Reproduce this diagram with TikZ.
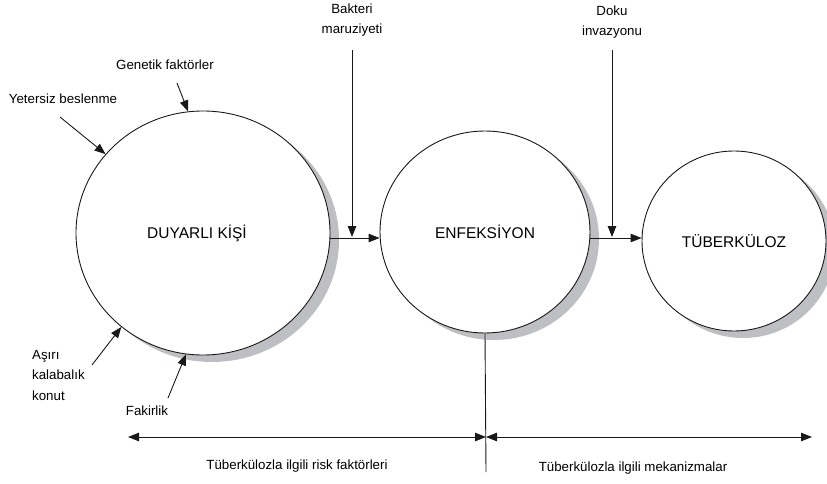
\documentclass[tikz,border=0pt]{standalone}
\usepackage{fontspec}
\setmainfont{Liberation Sans}
\usetikzlibrary{arrows.meta,shapes.geometric,shadows}
\definecolor{shadowgray}{RGB}{190,191,194}
\definecolor{ink}{RGB}{25,25,25}
\begin{document}
\begin{tikzpicture}[x=1pt,y=-1pt,
  bubble/.style={ellipse,draw=ink,line width=0.9pt,fill=white,inner sep=0pt,
    font=\fontsize{15.5}{18}\selectfont,text=black,
    drop shadow={shadow xshift=9pt,shadow yshift=-7pt,fill=shadowgray,opacity=1}},
  lbl/.style={font=\fontsize{13.3}{20.5}\selectfont,text=black,inner sep=0pt,align=center},
  arr/.style={draw=ink,line width=0.9pt,-{Triangle[length=11pt,width=8.5pt]}},
  darr/.style={draw=ink,line width=0.9pt,{Triangle[length=11pt,width=8.5pt]}-{Triangle[length=11pt,width=8.5pt]}},
  plain/.style={draw=ink,line width=0.9pt}]
\useasboundingbox (0,0) rectangle (827,484);

% circles
\node[bubble,minimum width=254pt,minimum height=244pt] (c1) at (203,233) {\hspace*{-12pt}DUYARLI KİŞİ};
\node[bubble,minimum width=210pt,minimum height=202pt] (c2) at (485,232) {ENFEKSİYON};
\node[bubble,minimum width=184pt,minimum height=180pt,
  drop shadow={shadow xshift=5pt,shadow yshift=-4pt,fill=shadowgray,opacity=1}] (c3) at (734,241) {TÜBERKÜLOZ};

% top labels
\node[lbl] (bak) at (352,20) {Bakteri\\maruziyeti};
\node[lbl] (dok) at (612,22) {Doku\\invazyonu};
\node[lbl] (gen) at (165,65) {Genetik faktörler};
\node[lbl] (yet) at (63,99) {Yetersiz beslenme};
\node[lbl,align=left,anchor=west] (asi) at (32,375) {Aşırı\\kalabalık\\konut};
\node[lbl] (fak) at (147,411) {Fakirlik};

% bottom labels
\node[lbl] (risk) at (297,466) {Tüberkülozla ilgili risk faktörleri};
\node[lbl] (mek) at (633,468) {Tüberkülozla ilgili mekanizmalar};

% helper coordinates
\coordinate (hy) at (0,238);
\coordinate (m1) at (352,238);
\coordinate (m2) at (612,238);
\coordinate (t1) at (352,50);
\coordinate (t2) at (612,50);
\coordinate (g0) at (177,83);
\coordinate (y0) at (60,117);
\coordinate (a0) at (92,365);
\coordinate (f0) at (168,398);
\coordinate (mid) at (486,437);
\coordinate (left) at (128,437);
\coordinate (right) at (812,437);
\coordinate (vend) at (486,472);

% flow arrows
\draw[arr] (c1.east |- hy) -- (c2.west |- hy);
\draw[arr] (c2.east |- hy) -- (c3.west |- hy);
\draw[arr] (t1) -- ([yshift=1pt]m1);
\draw[arr] (t2) -- ([yshift=1pt]m2);

% factor arrows
\draw[arr] (g0) -- (c1.97);
\draw[arr] (y0) -- (c1.141);
\draw[arr] (a0) -- (c1.229);
\draw[arr] (f0) -- (c1.262);

% bottom
\draw[plain] (c2.south) -- (vend);
\draw[darr] (left) -- (mid);
\draw[darr] (mid) -- (right);
\end{tikzpicture}
\end{document}
